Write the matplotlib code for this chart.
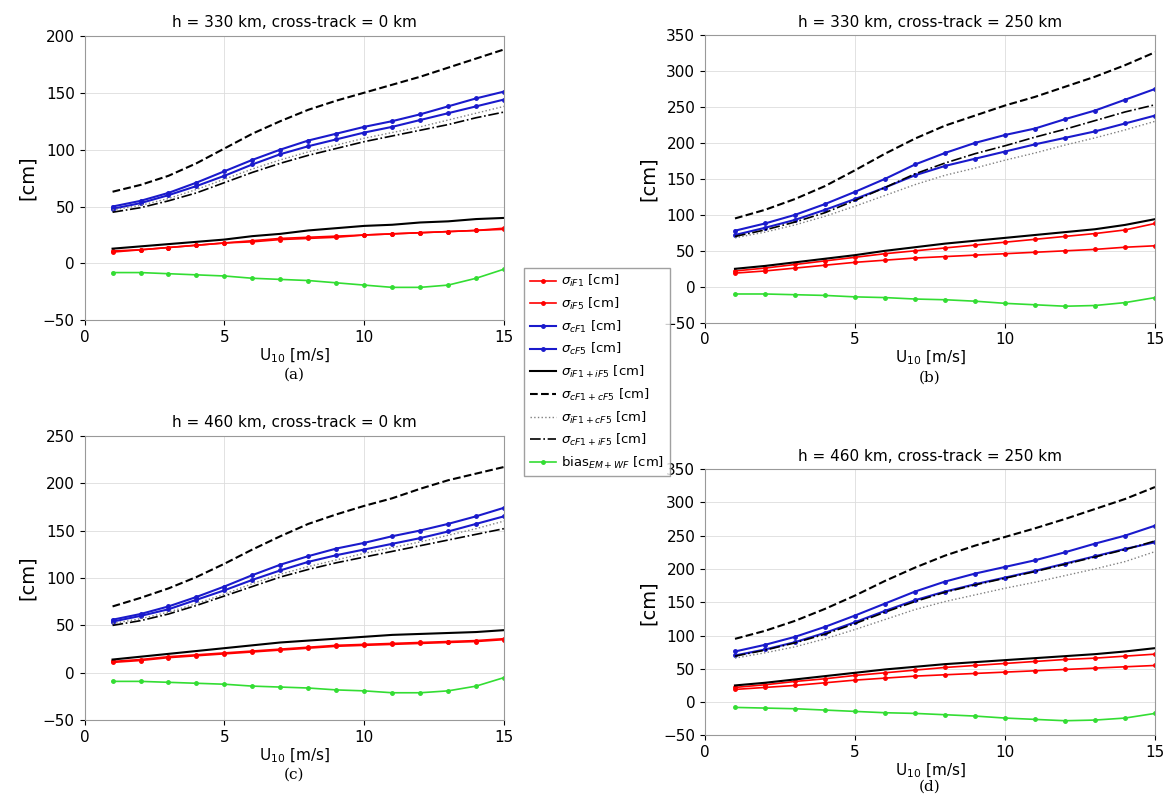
import numpy as np
import matplotlib
matplotlib.use("Agg")
from matplotlib import pyplot as plt

u10 = np.arange(1, 16)

# panel (a): h = 330 km, cross-track = 0 km
a_iF1 = [11, 12, 14, 16, 18, 20, 22, 23, 24, 25, 26, 27, 28, 29, 31]
a_iF5 = [10, 12, 14, 16, 18, 19, 21, 22, 23, 25, 26, 27, 28, 29, 30]
a_cF1 = [50, 55, 62, 71, 81, 91, 100, 108, 114, 120, 125, 131, 138, 145, 151]
a_cF5 = [48, 53, 60, 68, 77, 87, 96, 103, 109, 115, 120, 126, 132, 138, 144]
a_iF1iF5 = [13, 15, 17, 19, 21, 24, 26, 29, 31, 33, 34, 36, 37, 39, 40]
a_cF1cF5 = [63, 69, 77, 88, 101, 114, 125, 135, 143, 150, 157, 164, 172, 180, 188]
a_iF1cF5 = [47, 51, 57, 65, 74, 83, 91, 98, 104, 110, 115, 120, 126, 132, 138]
a_cF1iF5 = [45, 49, 55, 62, 71, 80, 88, 95, 101, 107, 112, 117, 122, 128, 133]
a_bias = [-8, -8, -9, -10, -11, -13, -14, -15, -17, -19, -21, -21, -19, -13, -5]

# panel (b): h = 330 km, cross-track = 250 km
b_iF1 = [22, 26, 31, 36, 41, 46, 50, 54, 58, 62, 66, 70, 74, 79, 88]
b_iF5 = [19, 22, 26, 30, 34, 37, 40, 42, 44, 46, 48, 50, 52, 55, 57]
b_cF1 = [78, 88, 100, 115, 132, 150, 170, 186, 200, 211, 220, 233, 245, 260, 275]
b_cF5 = [72, 82, 93, 107, 122, 138, 155, 168, 178, 188, 198, 207, 216, 227, 238]
b_iF1iF5 = [25, 29, 34, 39, 44, 50, 55, 60, 64, 68, 72, 76, 80, 86, 94]
b_cF1cF5 = [95, 107, 122, 140, 162, 185, 206, 224, 238, 252, 264, 278, 292, 308, 326]
b_iF1cF5 = [68, 76, 86, 98, 112, 127, 142, 155, 165, 176, 186, 197, 207, 218, 230]
b_cF1iF5 = [70, 79, 90, 103, 120, 138, 157, 172, 185, 196, 208, 219, 231, 243, 253]
b_bias = [-10, -10, -11, -12, -14, -15, -17, -18, -20, -23, -25, -27, -26, -22, -15]

# panel (c): h = 460 km, cross-track = 0 km
c_iF1 = [12, 14, 17, 19, 21, 23, 25, 27, 29, 30, 31, 32, 33, 34, 36]
c_iF5 = [11, 13, 16, 18, 20, 22, 24, 26, 28, 29, 30, 31, 32, 33, 35]
c_cF1 = [56, 62, 70, 80, 91, 103, 114, 123, 131, 137, 144, 150, 157, 165, 174]
c_cF5 = [54, 60, 67, 77, 87, 98, 108, 117, 124, 130, 136, 142, 149, 157, 165]
c_iF1iF5 = [14, 17, 20, 23, 26, 29, 32, 34, 36, 38, 40, 41, 42, 43, 45]
c_cF1cF5 = [70, 79, 89, 101, 115, 130, 144, 157, 167, 176, 184, 194, 203, 210, 217]
c_iF1cF5 = [52, 57, 64, 73, 83, 94, 104, 112, 119, 126, 132, 138, 145, 152, 160]
c_cF1iF5 = [50, 55, 62, 71, 81, 91, 101, 109, 116, 122, 128, 134, 140, 146, 152]
c_bias = [-9, -9, -10, -11, -12, -14, -15, -16, -18, -19, -21, -21, -19, -14, -5]

# panel (d): h = 460 km, cross-track = 250 km
d_iF1 = [22, 26, 31, 35, 40, 44, 48, 52, 55, 58, 61, 64, 66, 69, 72]
d_iF5 = [19, 22, 25, 29, 33, 36, 39, 41, 43, 45, 47, 49, 51, 53, 55]
d_cF1 = [76, 86, 98, 113, 130, 148, 166, 181, 193, 203, 213, 225, 238, 250, 265]
d_cF5 = [70, 79, 90, 104, 120, 137, 153, 166, 177, 187, 197, 208, 219, 230, 240]
d_iF1iF5 = [25, 29, 34, 39, 44, 49, 53, 57, 60, 63, 66, 69, 72, 76, 81]
d_cF1cF5 = [95, 107, 122, 140, 160, 182, 202, 220, 235, 248, 261, 275, 290, 305, 323]
d_iF1cF5 = [66, 74, 83, 95, 109, 124, 139, 151, 161, 171, 180, 190, 200, 211, 226]
d_cF1iF5 = [69, 78, 89, 102, 118, 135, 151, 165, 176, 186, 196, 207, 218, 229, 242]
d_bias = [-8, -9, -10, -12, -14, -16, -17, -19, -21, -24, -26, -28, -27, -24, -17]

labels = [r"$\sigma_{iF1}$ [cm]", r"$\sigma_{iF5}$ [cm]", r"$\sigma_{cF1}$ [cm]",
          r"$\sigma_{cF5}$ [cm]", r"$\sigma_{iF1+iF5}$ [cm]", r"$\sigma_{cF1+cF5}$ [cm]",
          r"$\sigma_{iF1+cF5}$ [cm]", r"$\sigma_{cF1+iF5}$ [cm]", r"bias$_{EM+WF}$ [cm]"]

panels = [
    ("h = 330 km, cross-track = 0 km", "(a)", [0.072, 0.597, 0.357, 0.358], 200,
     [a_iF1, a_iF5, a_cF1, a_cF5, a_iF1iF5, a_cF1cF5, a_iF1cF5, a_cF1iF5, a_bias]),
    ("h = 330 km, cross-track = 250 km", "(b)", [0.600, 0.594, 0.383, 0.362], 350,
     [b_iF1, b_iF5, b_cF1, b_cF5, b_iF1iF5, b_cF1cF5, b_iF1cF5, b_cF1iF5, b_bias]),
    ("h = 460 km, cross-track = 0 km", "(c)", [0.072, 0.094, 0.357, 0.358], 250,
     [c_iF1, c_iF5, c_cF1, c_cF5, c_iF1iF5, c_cF1cF5, c_iF1cF5, c_cF1iF5, c_bias]),
    ("h = 460 km, cross-track = 250 km", "(d)", [0.600, 0.075, 0.383, 0.335], 350,
     [d_iF1, d_iF5, d_cF1, d_cF5, d_iF1iF5, d_cF1cF5, d_iF1cF5, d_cF1iF5, d_bias]),
]

styles = [
    dict(color="red", marker=".", ms=5, lw=1.2),
    dict(color="red", marker=".", ms=5, lw=1.2),
    dict(color="#1a1acc", marker=".", ms=5, lw=1.5),
    dict(color="#1a1acc", marker=".", ms=5, lw=1.5),
    dict(color="black", ls="-", lw=1.5),
    dict(color="black", ls="--", lw=1.5),
    dict(color="gray", ls=":", lw=1.0),
    dict(color="black", ls="-.", lw=1.2),
    dict(color="#33dd33", marker=".", ms=5, lw=1.2),
]

fig = plt.figure(figsize=(11.75, 7.95), dpi=100)
for title, tag, rect, ytop, series in panels:
    ax = fig.add_axes(rect)
    lines = []
    for s, st in zip(series, styles):
        lines += ax.plot(u10, s, **st)
    ax.set_xlim(0, 15)
    ax.set_ylim(-50, ytop)
    ax.set_yticks(np.arange(-50, ytop + 1, 50))
    ax.set_xticks([0, 5, 10, 15])
    ax.grid(True, color="#dddddd", lw=0.6)
    ax.set_title(title, fontsize=11)
    ax.set_ylabel("[cm]", fontsize=14)
    ax.set_xlabel(r"U$_{10}$ [m/s]", fontsize=11, labelpad=1)
    ax.text(0.5, -0.165, tag, transform=ax.transAxes, ha="center", va="top",
            fontsize=11, family="serif")
    ax.tick_params(labelsize=11)
    for sp in ax.spines.values():
        sp.set_color("#999999")

fig.legend(lines, labels, loc="center", bbox_to_anchor=(0.508, 0.532), fontsize=9.5,
           frameon=True, fancybox=False, edgecolor="#888888", handlelength=2.0,
           handletextpad=0.4, borderpad=0.4, labelspacing=0.5)
fig.savefig("out.png", dpi=100)
